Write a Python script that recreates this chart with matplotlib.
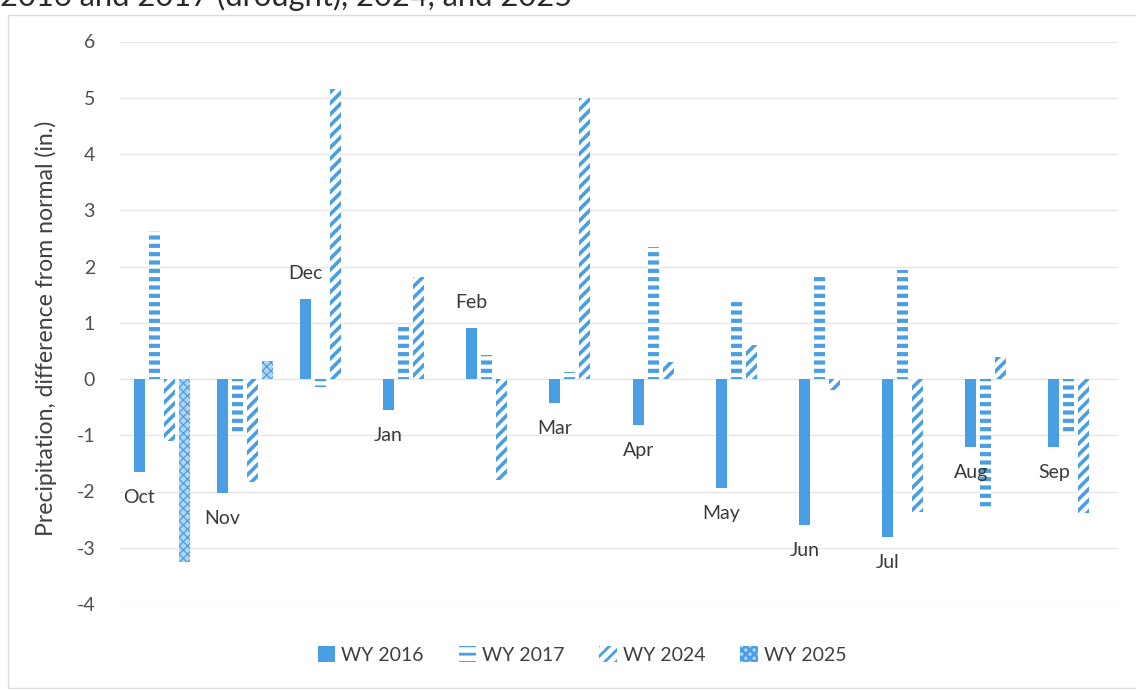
import matplotlib
matplotlib.use("Agg")
import matplotlib.pyplot as plt
import numpy as np
from matplotlib.patches import Rectangle

months = ["Oct", "Nov", "Dec", "Jan", "Feb", "Mar", "Apr", "May", "Jun", "Jul", "Aug", "Sep"]
wy2016 = [-1.65, -2.03, 1.42, -0.55, 0.91, -0.43, -0.82, -1.94, -2.60, -2.80, -1.20, -1.21]
wy2017 = [2.64, -0.98, -0.14, 0.96, 0.43, 0.13, 2.35, 1.44, 1.82, 1.93, -2.33, -0.95]
wy2024 = [-1.11, -1.83, 5.15, 1.82, -1.80, 4.99, 0.31, 0.60, -0.20, -2.36, 0.40, -2.39]
wy2025 = [-3.25, 0.32, np.nan, np.nan, np.nan, np.nan, np.nan, np.nan, np.nan, np.nan, np.nan, np.nan]
series_names = ["WY 2016", "WY 2017", "WY 2024", "WY 2025"]
yticks = [-4, -3, -2, -1, 0, 1, 2, 3, 4, 5, 6]

BLUE = "#4a9ee3"
plt.rcParams['font.family'] = ['Lato', 'DejaVu Sans']

fig = plt.figure(figsize=(11.36, 6.9), dpi=100)
ax = fig.add_axes([120/1136, 1-604/690, (1118-120)/1136, (604-41.5)/690])

x = np.arange(len(months))
pitch = 0.18
width = 0.133

styles = [
    dict(color=BLUE, hatch=None, lw=0.0),
    dict(color="white", hatch="--", lw=3.0),
    dict(color="white", hatch="///", lw=2.6),
    dict(color="#b3d5f3", hatch="xxxx", lw=0.9),
]
data = [wy2016, wy2017, wy2024, wy2025]
handles = []
for i, (vals, st, name) in enumerate(zip(data, styles, series_names)):
    off = (i - 1.5) * pitch
    bars = ax.bar(x + off, vals, width, color=st["color"], edgecolor=BLUE,
                  linewidth=0, hatch=st["hatch"], label=name, zorder=3)
    for b in bars:
        if st["hatch"]:
            try:
                b.set_hatch_linewidth(st["lw"])
            except AttributeError:
                pass
    handles.append(bars)

# month labels near WY2016 bar ends
for i, (m, v) in enumerate(zip(months, wy2016)):
    off = 18.5 if v >= 0 else -18.5
    ax.annotate(m, (x[i] - 1.5 * pitch, v), xytext=(0, off), textcoords="offset points",
                ha="center", va="center", fontsize=14, color="#3a3a3a", zorder=4)

ax.set_xlim(-0.5, len(months) - 0.5)
ax.set_ylim(-4, 6)
ax.set_yticks(yticks)
ax.set_yticklabels([str(t) for t in yticks], fontsize=14, color="#505050")
ax.set_xticks([])
ax.grid(axis="y", color="#e6e6e6", linewidth=1.0, zorder=0)
for s in ax.spines.values():
    s.set_visible(False)
ax.tick_params(axis="y", length=0, pad=18)
ax.set_ylabel("Precipitation, difference from normal (in.)", fontsize=16.6, color="#404040")
ax.yaxis.set_label_coords(-0.063, 0.49)

leg = fig.legend(handles=handles, labels=series_names, loc="center",
                 bbox_to_anchor=(582/1136, 1-655/690), ncol=4, frameon=False,
                 fontsize=14, handlelength=0.9, handleheight=0.9, handletextpad=0.3,
                 columnspacing=1.8)
for t in leg.get_texts():
    t.set_color("#404040")
for h in leg.legend_handles:
    try:
        h.set_hatch_linewidth(2.0)
    except AttributeError:
        pass

# chart border
fig.patches.append(Rectangle((8/1136, 2/690), 1.0, 1-17/690, transform=fig.transFigure,
                             fill=False, edgecolor="#dcdcdc", linewidth=1.0))

# title (cropped at top edge as in the source image)
fig.text(0.0, 1 - 6/690, "2016 and 2017 (drought), 2024, and 2025", fontsize=22.2,
         color="#2a2a2a", ha="left", va="baseline")

fig.savefig("out.png", dpi=100)
